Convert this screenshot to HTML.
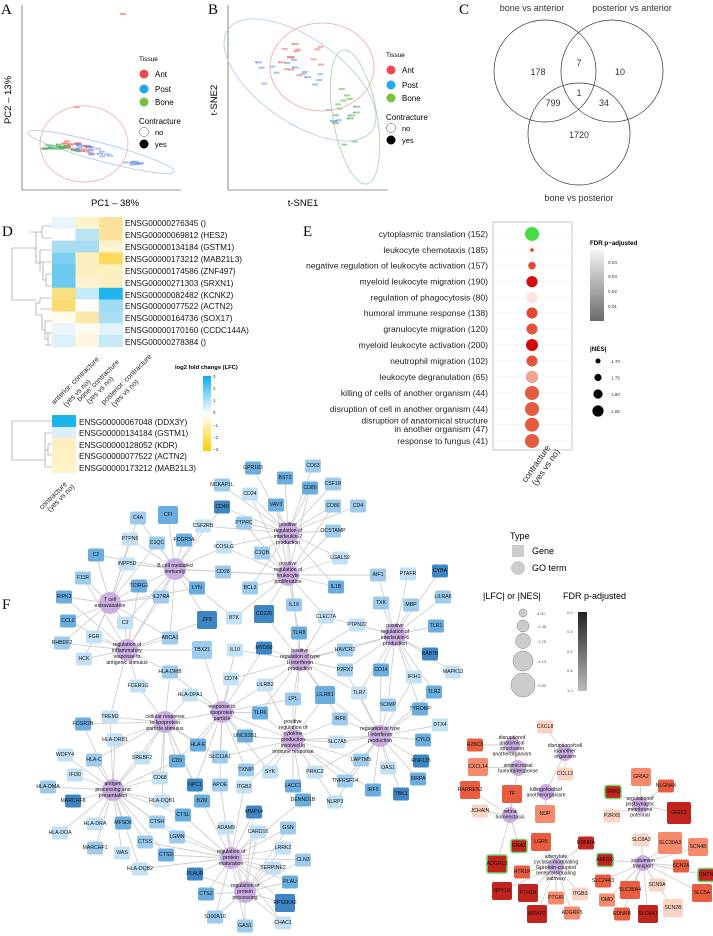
<!DOCTYPE html>
<html><head><meta charset="utf-8">
<style>
html,body{margin:0;padding:0;background:#fff}
svg{display:block;font-family:"Liberation Sans",sans-serif}
.pl{font-family:"Liberation Serif",serif;font-size:15px}
.g{font-size:5.2px;text-anchor:middle;dominant-baseline:central;fill:#111}
.go{font-size:5.2px;text-anchor:middle;fill:#111}
.hl{font-size:8.2px;fill:#111}
.el{font-size:8.6px;fill:#222;text-anchor:end}
.tk{font-size:4px;fill:#555}
</style></head><body>
<svg id="s" width="713" height="936" viewBox="0 0 713 936" xmlns="http://www.w3.org/2000/svg">
<g id="edges" stroke="#cfcfcf" stroke-width="0.9"></g>
<g id="marks"></g>

<!-- Panel letters -->
<text class="pl" x="1" y="14">A</text>
<text class="pl" x="208" y="14">B</text>
<text class="pl" x="459" y="14">C</text>
<text class="pl" x="2" y="236">D</text>
<text class="pl" x="303" y="236">E</text>
<text class="pl" x="2" y="609">F</text>

<!-- Panel A -->
<line x1="22" y1="5" x2="22" y2="190" stroke="#333" stroke-width="0.6"/>
<line x1="22" y1="190" x2="181" y2="190" stroke="#333" stroke-width="0.6"/>
<ellipse cx="84" cy="144" rx="44" ry="38" fill="none" stroke="#f3a6a6" stroke-width="0.8"/>
<ellipse cx="101" cy="152" rx="76" ry="9" transform="rotate(15 101 152)" fill="none" stroke="#a9c8ee" stroke-width="0.8"/>
<text x="115" y="206" font-size="9.5" text-anchor="middle">PC1 – 38%</text>
<text x="11" y="100" font-size="9.5" text-anchor="middle" transform="rotate(-90 11 100)">PC2 – 13%</text>
<text x="139" y="61" font-size="6.5">Tissue</text>
<circle cx="144" cy="74" r="4.5" fill="#f0484c"/><text x="155" y="77" font-size="8">Ant</text>
<circle cx="144" cy="89" r="4.5" fill="#22aaee"/><text x="155" y="92" font-size="8">Post</text>
<circle cx="144" cy="102" r="4.5" fill="#77c043"/><text x="155" y="105" font-size="8">Bone</text>
<text x="139" y="124" font-size="8">Contracture</text>
<circle cx="144" cy="132" r="4.5" fill="#fff" stroke="#444" stroke-width="0.5"/><text x="155" y="135" font-size="7.5">no</text>
<circle cx="144" cy="144" r="4.5" fill="#000"/><text x="155" y="147" font-size="7.5">yes</text>

<!-- Panel B -->
<line x1="228" y1="5" x2="228" y2="190" stroke="#333" stroke-width="0.6"/>
<line x1="228" y1="190" x2="388" y2="190" stroke="#333" stroke-width="0.6"/>
<ellipse cx="322" cy="67" rx="52" ry="44" fill="none" stroke="#f3a6a6" stroke-width="0.8"/>
<ellipse cx="300" cy="80" rx="88" ry="42" transform="rotate(35 300 80)" fill="none" stroke="#a9c8ee" stroke-width="0.8"/>
<ellipse cx="355" cy="117" rx="22" ry="68" transform="rotate(-10 355 117)" fill="none" stroke="#9fd79f" stroke-width="0.8"/>
<text x="303" y="206" font-size="9.5" text-anchor="middle">t-SNE1</text>
<text x="217" y="100" font-size="9.5" text-anchor="middle" transform="rotate(-90 217 100)">t-SNE2</text>
<text x="386" y="57" font-size="6.5">Tissue</text>
<circle cx="391" cy="70" r="4.5" fill="#f0484c"/><text x="402" y="73" font-size="8">Ant</text>
<circle cx="391" cy="85" r="4.5" fill="#22aaee"/><text x="402" y="88" font-size="8">Post</text>
<circle cx="391" cy="98" r="4.5" fill="#77c043"/><text x="402" y="101" font-size="8">Bone</text>
<text x="386" y="120" font-size="8">Contracture</text>
<circle cx="391" cy="128" r="4.5" fill="#fff" stroke="#444" stroke-width="0.5"/><text x="402" y="131" font-size="7.5">no</text>
<circle cx="391" cy="140" r="4.5" fill="#000"/><text x="402" y="143" font-size="7.5">yes</text>

<!-- Panel C -->
<g fill="none" stroke="#333" stroke-width="0.7">
<circle cx="545" cy="71" r="51"/><circle cx="612" cy="71" r="51"/><circle cx="579" cy="134" r="51"/>
</g>
<g font-size="9" text-anchor="middle" fill="#333">
<text x="532" y="11">bone vs anterior</text>
<text x="632" y="11">posterior vs anterior</text>
<text x="579" y="201">bone vs posterior</text>
<text x="538" y="75">178</text><text x="579" y="66">7</text><text x="620" y="75">10</text>
<text x="579" y="96">1</text><text x="553" y="106">799</text><text x="604" y="106">34</text>
<text x="579" y="138">1720</text>
</g>

<!-- Panel D heatmap 1 -->
<g id="hm1"></g>
<g class="hl">
<text x="125" y="226">ENSG00000276345 ()</text>
<text x="125" y="238">ENSG00000069812 (HES2)</text>
<text x="125" y="250">ENSG00000134184 (GSTM1)</text>
<text x="125" y="262">ENSG00000173212 (MAB21L3)</text>
<text x="125" y="274">ENSG00000174586 (ZNF497)</text>
<text x="125" y="286">ENSG00000271303 (SRXN1)</text>
<text x="125" y="298">ENSG00000082482 (KCNK2)</text>
<text x="125" y="309">ENSG00000077522 (ACTN2)</text>
<text x="125" y="321">ENSG00000164736 (SOX17)</text>
<text x="125" y="333">ENSG00000170160 (CCDC144A)</text>
<text x="125" y="345">ENSG00000278384 ()</text>
</g>
<g fill="none" stroke="#888" stroke-width="0.6">
<path d="M42,226H52 M42,238H52 M42,226V238 M30,232H42 M40,250H52 M40,262H52 M40,250V256 M46,274H52 M46,286H52 M46,274V286 M43,262H46 M43,280H46 M43,262V280 M40,256V271 M36,263H40 M36,232V263 M12,248H36 M12,248V300 M40,298H52 M40,309H52 M40,298V303 M45,321H52 M45,333H52 M45,345H52 M48,333V345 M45,339H48 M45,321V339 M42,330H45 M42,315V330 M36,303H40 M36,315H42 M36,303V315 M12,300H36"/>
</g>
<g font-size="7.2" fill="#222">
<text transform="translate(54,405) rotate(-45)">anterior: contracture</text>
<text transform="translate(66,407) rotate(-45)">(yes vs no)</text>
<text transform="translate(80,402) rotate(-45)">bone: contracture</text>
<text transform="translate(89,404) rotate(-45)">(yes vs no)</text>
<text transform="translate(104,405) rotate(-45)">posterior: contracture</text>
<text transform="translate(114,407) rotate(-45)">(yes vs no)</text>
</g>
<defs>
<linearGradient id="lfc" x1="0" y1="0" x2="0" y2="1">
<stop offset="0" stop-color="#0aaef0"/><stop offset="0.5" stop-color="#ffffff"/><stop offset="1" stop-color="#f7d200"/>
</linearGradient>
<linearGradient id="fdr" x1="0" y1="0" x2="0" y2="1">
<stop offset="0" stop-color="#f4f4f4"/><stop offset="1" stop-color="#6a6a6a"/>
</linearGradient>
<linearGradient id="fdr2" x1="0" y1="0" x2="0" y2="1">
<stop offset="0" stop-color="#222"/><stop offset="1" stop-color="#bbb"/>
</linearGradient>
</defs>
<text x="175" y="369" font-size="5.8" font-weight="bold">log2 fold change (LFC)</text>
<rect x="203" y="376" width="8" height="75" fill="url(#lfc)"/>
<g font-size="4.5" fill="#333">
<text x="213" y="378">3</text><text x="213" y="390">2</text><text x="213" y="402">1</text><text x="213" y="414">0</text><text x="213" y="427">−1</text><text x="213" y="439">−2</text><text x="213" y="451">−3</text>
</g>
<!-- heatmap 2 -->
<rect x="52" y="415" width="24" height="12" fill="#1cb3ef"/>
<rect x="52" y="427" width="24" height="11" fill="#dcf0fa"/>
<rect x="52" y="438" width="24" height="12" fill="#fdefbe"/>
<rect x="52" y="450" width="24" height="11" fill="#fdf0c2"/>
<rect x="52" y="461" width="24" height="12" fill="#fdf3c8"/>
<g class="hl">
<text x="79" y="425">ENSG00000067048 (DDX3Y)</text>
<text x="79" y="436">ENSG00000134184 (GSTM1)</text>
<text x="79" y="448">ENSG00000128052 (KDR)</text>
<text x="79" y="459">ENSG00000077522 (ACTN2)</text>
<text x="79" y="471">ENSG00000173212 (MAB21L3)</text>
</g>
<path d="M12,421H52 M12,421V460 M12,460H45 M45,433V467 M45,433H52 M48,444H52 M48,455H52 M48,444V455 M45,450H48 M50,467H52 M45,467H50" fill="none" stroke="#888" stroke-width="0.6"/>
<text transform="translate(42,510) rotate(-45)" font-size="7.2" fill="#222">contracture</text>
<text transform="translate(50,512) rotate(-45)" font-size="7.2" fill="#222">(yes vs no)</text>

<!-- Panel E -->
<rect x="493" y="222" width="79" height="228" fill="#fff" stroke="#bbb" stroke-width="0.8"/>
<g id="egrid" stroke="#eee" stroke-width="0.6"></g>
<g class="el">
<text x="488" y="237">cytoplasmic translation (152)</text>
<text x="488" y="253">leukocyte chemotaxis (185)</text>
<text x="488" y="268.7">negative regulation of leukocyte activation (157)</text>
<text x="488" y="284.7">myeloid leukocyte migration (190)</text>
<text x="488" y="300.7">regulation of phagocytosis (80)</text>
<text x="488" y="316">humoral immune response (138)</text>
<text x="488" y="332">granulocyte migration (120)</text>
<text x="488" y="348">myeloid leukocyte activation (200)</text>
<text x="488" y="364">neutrophil migration (102)</text>
<text x="488" y="380">leukocyte degranulation (65)</text>
<text x="488" y="396">killing of cells of another organism (44)</text>
<text x="488" y="412">disruption of cell in another organism (44)</text>
<text x="488" y="423.5">disruption of anatomical structure</text>
<text x="488" y="432">in another organism (47)</text>
<text x="488" y="444">response to fungus (41)</text>
</g>
<g>
<circle cx="532" cy="234" r="7" fill="#45dd45"/>
<circle cx="532" cy="250" r="1.8" fill="#e83a28"/>
<circle cx="532" cy="265.7" r="3.8" fill="#e24a32"/>
<circle cx="532" cy="281.7" r="5.6" fill="#d40e0e"/>
<circle cx="532" cy="297.7" r="5.6" fill="#fbe2de"/>
<circle cx="532" cy="313" r="5.5" fill="#e2472f"/>
<circle cx="532" cy="329" r="5.5" fill="#e2533b"/>
<circle cx="532" cy="345" r="6" fill="#d20c0c"/>
<circle cx="532" cy="361" r="5.5" fill="#e2533b"/>
<circle cx="532" cy="377" r="6.2" fill="#f4a493"/>
<circle cx="532" cy="393" r="7" fill="#e35c42"/>
<circle cx="532" cy="409" r="7" fill="#e35c42"/>
<circle cx="532" cy="424.7" r="7" fill="#e35a40"/>
<circle cx="532" cy="441" r="7" fill="#e35c42"/>
</g>
<text transform="translate(526,483) rotate(-55)" font-size="8.6" fill="#222">contracture</text>
<text transform="translate(536,486) rotate(-55)" font-size="8.6" fill="#222">(yes vs no)</text>
<text x="590" y="245" font-size="6.2" font-weight="bold">FDR p−adjusted</text>
<rect x="590" y="250" width="14" height="71" fill="url(#fdr)"/>
<g font-size="4.6" fill="#333"><text x="608" y="264">0.04</text><text x="608" y="278">0.03</text><text x="608" y="293">0.02</text><text x="608" y="308">0.01</text></g>
<text x="590" y="351" font-size="6.2" font-weight="bold">|NES|</text>
<circle cx="598" cy="361" r="2.5"/><circle cx="598" cy="377.5" r="3.6"/><circle cx="598" cy="394" r="4.6"/><circle cx="598" cy="411" r="5.6"/>
<g font-size="4.6" fill="#333"><text x="611" y="363">1.70</text><text x="611" y="379.5">1.75</text><text x="611" y="396">1.80</text><text x="611" y="413">1.85</text></g>

<!-- Panel F legend -->
<text x="510" y="539" font-size="9">Type</text>
<rect x="512" y="545" width="12" height="12" rx="1" fill="#ccc"/><text x="532" y="554" font-size="9">Gene</text>
<circle cx="518" cy="568" r="7" fill="#ccc"/><text x="532" y="571" font-size="9">GO term</text>
<text x="483" y="599" font-size="9">|LFC| or |NES|</text>
<text x="563" y="599" font-size="9">FDR p-adjusted</text>
<g fill="#ccc" stroke="#666" stroke-width="0.4">
<circle cx="523" cy="613" r="4"/><circle cx="523" cy="626" r="6"/><circle cx="523" cy="641" r="7.5"/><circle cx="523" cy="661" r="10"/><circle cx="523" cy="685" r="12"/>
</g>
<g class="tk"><text x="537" y="615">0.00</text><text x="537" y="628">-1.38</text><text x="537" y="643">-2.75</text><text x="537" y="663">-4.13</text><text x="537" y="687">-5.50</text></g>
<rect x="578" y="612" width="9" height="79" fill="url(#fdr2)"/>
<g class="tk"><text x="567" y="614">0.0</text><text x="567" y="633">0.3</text><text x="567" y="653">0.5</text><text x="567" y="672">0.8</text><text x="567" y="692">1.0</text></g>

<!-- GO term nodes -->
<g id="gos">
<text class="go" data-x="288" data-y="533" x="288" y="526"><tspan x="288">positive</tspan><tspan x="288" dy="6">regulation of</tspan><tspan x="288" dy="6">interleukin-2</tspan><tspan x="288" dy="6">production</tspan></text>
<text class="go" data-x="288" data-y="575" x="288" y="565"><tspan x="288">positive</tspan><tspan x="288" dy="6">regulation of</tspan><tspan x="288" dy="6">leukocyte</tspan><tspan x="288" dy="6">proliferation</tspan></text>
<text class="go" data-x="175" data-y="569" x="175" y="567"><tspan x="175">B cell mediated</tspan><tspan x="175" dy="6">immunity</tspan></text>
<text class="go" data-x="110" data-y="603" x="110" y="601"><tspan x="110">T cell</tspan><tspan x="110" dy="6">extravasation</tspan></text>
<text class="go" data-x="127" data-y="650" x="127" y="646"><tspan x="127">regulation of</tspan><tspan x="127" dy="6">inflammatory</tspan><tspan x="127" dy="6">response to</tspan><tspan x="127" dy="6">antigenic stimulus</tspan></text>
<text class="go" data-x="300" data-y="660" x="300" y="652"><tspan x="300">positive</tspan><tspan x="300" dy="6">regulation of type</tspan><tspan x="300" dy="6">II interferon</tspan><tspan x="300" dy="6">production</tspan></text>
<text class="go" data-x="395" data-y="635" x="395" y="627"><tspan x="395">positive</tspan><tspan x="395" dy="6">regulation of</tspan><tspan x="395" dy="6">interleukin-6</tspan><tspan x="395" dy="6">production</tspan></text>
<text class="go" data-x="165" data-y="722" x="165" y="718"><tspan x="165">cellular response</tspan><tspan x="165" dy="6">to lipoprotein</tspan><tspan x="165" dy="6">particle stimulus</tspan></text>
<text class="go" data-x="222" data-y="712" x="222" y="708"><tspan x="222">response to</tspan><tspan x="222" dy="6">lipoprotein</tspan><tspan x="222" dy="6">particle</tspan></text>
<text class="go" data-x="293" data-y="740" x="293" y="723"><tspan x="293">positive</tspan><tspan x="293" dy="6">regulation of</tspan><tspan x="293" dy="6">cytokine</tspan><tspan x="293" dy="6">production</tspan><tspan x="293" dy="6">involved in</tspan><tspan x="293" dy="6">immune response</tspan></text>
<text class="go" data-x="380" data-y="736" x="380" y="730"><tspan x="380">regulation of type</tspan><tspan x="380" dy="6">I interferon</tspan><tspan x="380" dy="6">production</tspan></text>
<text class="go" data-x="113" data-y="790" x="113" y="785"><tspan x="113">antigen</tspan><tspan x="113" dy="6">processing and</tspan><tspan x="113" dy="6">presentation</tspan></text>
<text class="go" data-x="231" data-y="858" x="231" y="853"><tspan x="231">regulation of</tspan><tspan x="231" dy="6">protein</tspan><tspan x="231" dy="6">maturation</tspan></text>
<text class="go" data-x="245" data-y="892" x="245" y="887"><tspan x="245">regulation of</tspan><tspan x="245" dy="6">protein</tspan><tspan x="245" dy="6">processing</tspan></text>
<text class="go" data-x="512" data-y="745" data-c="r" x="512" y="739"><tspan x="512">disruptionof</tspan><tspan x="512" dy="5.5">anatomical</tspan><tspan x="512" dy="5.5">structurein</tspan><tspan x="512" dy="5.5">anotherorganism</tspan></text>
<text class="go" data-x="565" data-y="753" data-c="r" x="565" y="747"><tspan x="565">disruptionofcell</tspan><tspan x="565" dy="5.5">inanother</tspan><tspan x="565" dy="5.5">organism</tspan></text>
<text class="go" data-x="518" data-y="768" data-c="r" x="518" y="767"><tspan x="518">antimicrobial</tspan><tspan x="518" dy="5.5">humoralresponse</tspan></text>
<text class="go" data-x="546" data-y="792" data-c="r" x="546" y="791"><tspan x="546">killingofcellsof</tspan><tspan x="546" dy="5.5">anotherorganism</tspan></text>
<text class="go" data-x="510" data-y="815" data-c="r" x="510" y="813"><tspan x="510">retina</tspan><tspan x="510" dy="5.5">homeostasis</tspan></text>
<text class="go" data-x="640" data-y="805" data-c="r" x="640" y="800"><tspan x="640">regulationof</tspan><tspan x="640" dy="5.5">postsynaptic</tspan><tspan x="640" dy="5.5">membrane</tspan><tspan x="640" dy="5.5">potential</tspan></text>
<text class="go" data-x="556" data-y="866" data-c="r" x="556" y="858"><tspan x="556">adenylate</tspan><tspan x="556" dy="5.5">cyclase-modulating</tspan><tspan x="556" dy="5.5">Gprotein-coupled</tspan><tspan x="556" dy="5.5">receptorsignaling</tspan><tspan x="556" dy="5.5">pathway</tspan></text>
<text class="go" data-x="643" data-y="863" data-c="r" x="643" y="862"><tspan x="643">sodiumion</tspan><tspan x="643" dy="5.5">transport</tspan></text>
</g>

<!-- Gene nodes: class b1..b4 / r1..r4, L = large, gb = green border -->
<g id="genes">
<text class="g b3" x="253" y="468">GPR183</text>
<text class="g b2" x="313" y="466">CD63</text>
<text class="g b2" x="222" y="485">NCKAP1L</text>
<text class="g b3" x="285" y="478">BST2</text>
<text class="g b1" x="250" y="494">CD24</text>
<text class="g b3" x="310" y="488">CD80</text>
<text class="g b2" x="333" y="484">CSF1R</text>
<text class="g b4" x="222" y="507">CD40</text>
<text class="g b3" x="276" y="505">VAV3</text>
<text class="g b2" x="333" y="506">CD86</text>
<text class="g b2" x="358" y="506">CD4</text>
<text class="g b2" x="138" y="518">C4A</text>
<text class="g b3 L" x="168" y="515">CFI</text>
<text class="g b1" x="203" y="526">CSF2RB</text>
<text class="g b2" x="244" y="523">PTPRC</text>
<text class="g b2" x="333" y="531">OCSTAMP</text>
<text class="g b1" x="130" y="539">PTPN6</text>
<text class="g b2" x="157" y="543">C1QC</text>
<text class="g b3" x="184" y="540">FCGR3A</text>
<text class="g b1" x="224" y="547">ICOSLG</text>
<text class="g b2" x="262" y="553">C1QB</text>
<text class="g b1" x="340" y="558">LGALS9</text>
<text class="g b3" x="96" y="555">C2</text>
<text class="g b1" x="127" y="564">INPP5D</text>
<text class="g b2" x="223" y="572">CD28</text>
<text class="g b2" x="83" y="578">F11R</text>
<text class="g b3" x="139" y="586">TCIRG1</text>
<text class="g b3" x="197" y="588">LYN</text>
<text class="g b2" x="250" y="588">BCL3</text>
<text class="g b3" x="336" y="587">IL1B</text>
<text class="g b3" x="64" y="597">RIPK3</text>
<text class="g b2" x="161" y="597">IL27RA</text>
<text class="g b2" x="294" y="605">IL18</text>
<text class="g b4 L" x="207" y="620">ZP3</text>
<text class="g b1" x="234" y="618">BTK</text>
<text class="g b4 L" x="264" y="614">CD226</text>
<text class="g b1" x="326" y="617">CLEC7A</text>
<text class="g b3" x="68" y="621">CCL2</text>
<text class="g b1" x="125" y="623">C3</text>
<text class="g b3" x="299" y="633">TLR8</text>
<text class="g b1" x="94" y="637">FGR</text>
<text class="g b2" x="170" y="638">ABCA1</text>
<text class="g b2" x="62" y="643">RHBDF2</text>
<text class="g b2 L" x="202" y="650">TBX21</text>
<text class="g b1" x="235" y="650">IL10</text>
<text class="g b4" x="264" y="648">MYD88</text>
<text class="g b2" x="345" y="650">HAVCR2</text>
<text class="g b1" x="84" y="659">HCK</text>
<text class="g b2" x="170" y="672">HLA-DMB</text>
<text class="g b2" x="345" y="670">P2RX7</text>
<text class="g b1" x="138" y="686">FCER1G</text>
<text class="g b1" x="231" y="679">CD74</text>
<text class="g b1" x="265" y="685">LILRB2</text>
<text class="g b3" x="381" y="670">CD14</text>
<text class="g b1" x="190" y="695">HLA-DPA1</text>
<text class="g b2" x="293" y="699">LPL</text>
<text class="g b3 L" x="325" y="695">LILRB1</text>
<text class="g b1" x="359" y="693">TLR7</text>
<text class="g b1" x="110" y="717">TREM2</text>
<text class="g b3" x="83" y="724">FCGR2B</text>
<text class="g b3" x="260" y="713">TLR6</text>
<text class="g b2" x="340" y="719">IRF8</text>
<text class="g b1" x="115" y="740">HLA-DRB1</text>
<text class="g b3" x="245" y="736">UNC93B1</text>
<text class="g b3" x="198" y="745">HLA-E</text>
<text class="g b1" x="337" y="742">SLC7A5</text>
<text class="g b1" x="65" y="755">WDFY4</text>
<text class="g b2" x="94" y="760">HLA-C</text>
<text class="g b1" x="142" y="758">SREBF2</text>
<text class="g b3" x="177" y="761">CD9</text>
<text class="g b2" x="220" y="757">SLC11A1</text>
<text class="g b1" x="75" y="775">IFI30</text>
<text class="g b1" x="160" y="778">CD68</text>
<text class="g b2" x="246" y="770">TXNIP</text>
<text class="g b1" x="270" y="772">SYK</text>
<text class="g b1" x="315" y="772">PRKCZ</text>
<text class="g b2" x="345" y="781">TNFRSF14</text>
<text class="g b2" x="48" y="787">HLA-DMA</text>
<text class="g b4" x="195" y="785">NPC1</text>
<text class="g b2" x="220" y="785">APOE</text>
<text class="g b1" x="244" y="787">ITGB2</text>
<text class="g b3" x="293" y="786">LACC1</text>
<text class="g b4" x="73" y="801">MARCHF8</text>
<text class="g b1" x="162" y="801">HLA-DQB1</text>
<text class="g b3" x="202" y="801">B2M</text>
<text class="g b3" x="303" y="800">DENND1B</text>
<text class="g b1" x="335" y="802">NLRP3</text>
<text class="g b3" x="373" y="790">IRF5</text>
<text class="g b4" x="401" y="794">TBK1</text>
<text class="g b3" x="183" y="815">CTSL</text>
<text class="g b4" x="254" y="812">MMP14</text>
<text class="g b1" x="95" y="824">HLA-DRA</text>
<text class="g b3" x="123" y="823">MFSD6</text>
<text class="g b2" x="157" y="822">CTSH</text>
<text class="g b1" x="226" y="828">ADAM9</text>
<text class="g b1" x="258" y="832">CARD16</text>
<text class="g b2" x="288" y="828">GSN</text>
<text class="g b1" x="60" y="833">HLA-DOA</text>
<text class="g b2" x="177" y="837">LGMN</text>
<text class="g b1" x="283" y="848">LRRK2</text>
<text class="g b2" x="95" y="848">MARCHF1</text>
<text class="g b2" x="145" y="842">CTSS</text>
<text class="g b1" x="122" y="853">WAS</text>
<text class="g b3" x="166" y="855">CTSD</text>
<text class="g b2" x="303" y="860">CLN3</text>
<text class="g b1" x="273" y="868">SERPINE2</text>
<text class="g b1" x="140" y="869">HLA-DQB2</text>
<text class="g b4" x="195" y="874">PLAUR</text>
<text class="g b3" x="290" y="882">PLAU</text>
<text class="g b3" x="206" y="894">CTSZ</text>
<text class="g b4 L" x="285" y="903">RPS6KA2</text>
<text class="g b2" x="215" y="917">S100A10</text>
<text class="g b2" x="245" y="926">GAS1</text>
<text class="g b1" x="283" y="923">CHAC1</text>
<text class="g b2" x="378" y="575">AIF1</text>
<text class="g b1" x="408" y="574">PTAFR</text>
<text class="g b4" x="440" y="571">CYBA</text>
<text class="g b2" x="443" y="597">LILRA6</text>
<text class="g b2" x="381" y="603">TXK</text>
<text class="g b2" x="411" y="605">MBP</text>
<text class="g b1" x="357" y="625">PTPN22</text>
<text class="g b3" x="436" y="626">TLR1</text>
<text class="g b4" x="430" y="654">RAB7B</text>
<text class="g b1" x="453" y="672">MAPK13</text>
<text class="g b1" x="414" y="677">IFIH1</text>
<text class="g b3" x="434" y="692">TLR2</text>
<text class="g b2" x="388" y="705">SCIMP</text>
<text class="g b3" x="420" y="709">TYROBP</text>
<text class="g b1" x="440" y="725">DTX4</text>
<text class="g b3" x="423" y="740">CYLD</text>
<text class="g b2" x="361" y="760">LAPTM5</text>
<text class="g b1" x="388" y="768">OAS1</text>
<text class="g b4" x="421" y="761">RNF135</text>
<text class="g b3" x="418" y="779">SIRPA</text>
<!-- red network -->
<text class="g r3" x="475" y="745">H2BC8</text>
<text class="g r1" x="545" y="727">CXCL8</text>
<text class="g r2 L" x="478" y="767">CXCL14</text>
<text class="g r1" x="565" y="774">CCL13</text>
<text class="g r3 L" x="470" y="790">RARRES2</text>
<text class="g r3 L" x="512" y="794">TF</text>
<text class="g r1" x="480" y="811">JCHAIN</text>
<text class="g r2 L" x="545" y="814">NDP</text>
<text class="g r2 L" x="641" y="777">GRIA2</text>
<text class="g r3" x="666" y="786">NLGN4X</text>
<text class="g r4 gb" x="613" y="792">GRIK5</text>
<text class="g r1" x="612" y="816">P2RX5</text>
<text class="g r4 XL" x="679" y="813">GRIK2</text>
<text class="g r1" x="641" y="840">SLC8A3</text>
<text class="g r3 L" x="541" y="842">LGR5</text>
<text class="g r4" x="586" y="843">EDNRA</text>
<text class="g r4 gb" x="519" y="846">GNAZ</text>
<text class="g r4 gb L" x="497" y="864">ADGRL3</text>
<text class="g r3" x="522" y="872">HTR1F</text>
<text class="g r4 L" x="502" y="891">NPY1R</text>
<text class="g r4 L" x="528" y="893">PTH1R</text>
<text class="g r2" x="556" y="898">PTGIR</text>
<text class="g r1" x="580" y="894">ITGB3</text>
<text class="g r4 L" x="537" y="914">MRAP2</text>
<text class="g r2" x="572" y="913">ADGRF5</text>
<text class="g r2 XL" x="670" y="843">SLC30A3</text>
<text class="g r2 L" x="698" y="847">SCN4B</text>
<text class="g r4 gb" x="605" y="860">AMIGO</text>
<text class="g r3" x="681" y="866">SCN2A</text>
<text class="g r4 gb" x="706" y="875">CNTN</text>
<text class="g r3" x="603" y="881">SLC24A3</text>
<text class="g r1" x="657" y="885">SCN9A</text>
<text class="g r3 L" x="630" y="890">SLC38A4</text>
<text class="g r3 L" x="702" y="893">SLC5A</text>
<text class="g r2" x="607" y="900">DMD</text>
<text class="g r1 L" x="673" y="908">SCN2B</text>
<text class="g r3" x="622" y="914">EDNRB</text>
<text class="g r4 L" x="648" y="914">SLC8A1</text>
</g>
</svg>
<script>
(function(){
var NS="http://www.w3.org/2000/svg",s=document.getElementById('s');
function el(t,a,p){var e=document.createElementNS(NS,t);for(var k in a)e.setAttribute(k,a[k]);(p||s).appendChild(e);return e;}
// heatmap 1
var hm=document.getElementById('hm1');
var C=[["#e8f4fb","#fdf3c8","#fbe49a"],["#ffffff","#b8e4f6","#fbe49a"],["#a8dcf3","#a8dcf3","#fdf3d0"],["#7fd0f0","#fdf0bf","#fbd95c"],["#6ccaf0","#fdf0c0","#fdf0c0"],["#6ccaf0","#fdf3d2","#fdf0c0"],["#fadf80","#c5eaf8","#1fb4ee"],["#fadb70","#ffffff","#a0daf3"],["#fffaea","#fbe8a8","#aadef4"],["#eaf6fc","#fffaf0","#e0f2fb"],["#dcf0fa","#fff6e0","#c8e9f8"]];
var xs=[52,75.5,99,122.5];
for(var r=0;r<11;r++)for(var c=0;c<3;c++)el('rect',{x:xs[c],y:217+r*11.8,width:xs[c+1]-xs[c]+0.3,height:12.1,fill:C[r][c]},hm);
// E grid
var eg=document.getElementById('egrid');
[234,250,265.7,281.7,297.7,313,329,345,361,377,393,409,424.7,441].forEach(function(y){el('line',{x1:493,x2:572,y1:y,y2:y},eg);});
el('line',{x1:532,x2:532,y1:222,y2:450},eg);
// scatter marks
var mk=document.getElementById('marks'),seed=7;function rnd(){seed=(seed*9301+49297)%233280;return seed/233280;}
function cl(n,cx,cy,sx,sy,col,rot){for(var i=0;i<n;i++){var u=(rnd()-0.5)*2*sx,v=(rnd()-0.5)*2*sy;var a=(rot||0)*Math.PI/180;var x=cx+u*Math.cos(a)-v*Math.sin(a),y=cy+u*Math.sin(a)+v*Math.cos(a);el('rect',{x:x,y:y,width:6,height:2,fill:col,opacity:0.55},mk);if(rnd()<0.3)el('circle',{cx:x,cy:y+1,r:0.9,fill:col},mk);}}
cl(25,58,147,18,4,"#4caf50",10);cl(18,75,146,14,4,"#e66",10);cl(18,90,150,18,4,"#6b8fe0",12);cl(8,130,162,8,2,"#6b8fe0",0);
el('rect',{x:120,y:13,width:6,height:2,fill:"#e66",opacity:.6},mk);el('rect',{x:74,y:106,width:6,height:2,fill:"#e66",opacity:.6},mk);
cl(14,300,60,22,18,"#e66",0);cl(14,285,70,35,15,"#6b8fe0",0);cl(14,345,115,12,30,"#4caf50",0);cl(4,330,115,6,6,"#6b8fe0",0);
// nodes
var cols={b1:"#c3e1f5",b2:"#9ccbee",b3:"#6aaedf",b4:"#3d86c3",r1:"#fbd3c4",r2:"#f58a6c",r3:"#e95c3f",r4:"#c0241d"};
var edg=document.getElementById('edges');
var gos=[].slice.call(document.querySelectorAll('#gos text')).map(function(t){return {x:+t.getAttribute('data-x'),y:+t.getAttribute('data-y'),r:t.getAttribute('data-c')=='r'};});
var gl=el('g',{});s.insertBefore(gl,document.getElementById('gos'));
gos.forEach(function(g){el('circle',{cx:g.x,cy:g.y,r:g.r?8:11,fill:"#c7a6df",opacity:0.9},gl);});
var gn=document.getElementById('genes');
[].slice.call(gn.querySelectorAll('text')).forEach(function(t){
 var x=+t.getAttribute('x'),y=+t.getAttribute('y'),cls=t.getAttribute('class').split(' ');
 var c="#9ccbee",w=16,h=13,gb=false,red=false;
 cls.forEach(function(k){if(cols[k]){c=cols[k];red=k[0]=='r';}if(k=='L'){w=20;h=18;}if(k=='XL'){w=24;h=22;}if(k=='gb')gb=true;});
 var d=gos.filter(function(g){return g.r==red;}).map(function(g){return {g:g,d:Math.hypot(g.x-x,g.y-y)};}).sort(function(a,b){return a.d-b.d;});
 var n=red?1:(d[1]&&d[1].d<95?2:1);if(!red&&d[2]&&d[2].d<75)n=3;
 for(var i=0;i<n;i++)el('line',{x1:x,y1:y,x2:d[i].g.x,y2:d[i].g.y},edg);
 var r=el('rect',{x:x-w/2,y:y-h/2,width:w,height:h,rx:2,fill:c},gn);
 if(gb){r.setAttribute('stroke','#6fd66f');r.setAttribute('stroke-width','1.5');}
 gn.insertBefore(r,t);
});
// some GO-GO links
[[0,1],[1,2],[5,6],[5,9],[9,10],[7,8],[8,9],[11,7],[12,13],[2,4],[14,16],[15,17],[16,18]].forEach(function(p){el('line',{x1:gos[p[0]].x,y1:gos[p[0]].y,x2:gos[p[1]].x,y2:gos[p[1]].y},edg);});
})();
</script>
</body></html>
